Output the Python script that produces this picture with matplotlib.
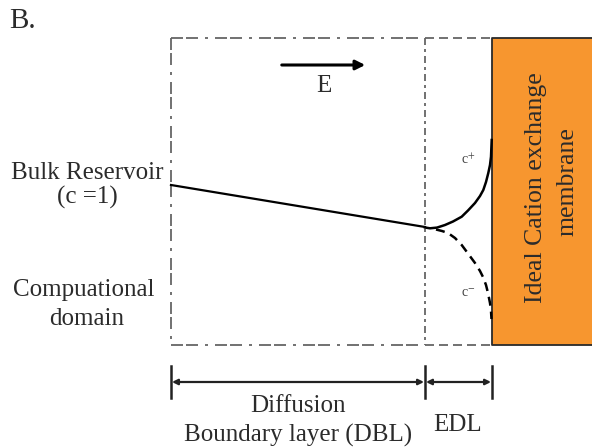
import numpy as np
import matplotlib.pyplot as plt

plt.rcParams['font.family'] = ['Liberation Serif', 'DejaVu Serif']
plt.rcParams['mathtext.fontset'] = 'stix'

# geometry of the sketch, in pixel units of the canvas
W, H = 592, 448
dbl_x = [171, 425]          # diffusion boundary layer
edl_x = [425, 492]          # electric double layer
membrane_x = [492, 592]
box_y = [38, 345]

# concentration profiles
bulk_x = [171, 425]
bulk_c = [185, 227]
cplus_x = [425, 430, 437, 445, 453, 461.7, 468, 475, 480, 483.3, 486, 488.3, 490, 491, 491.7]
cplus_c = [227.5, 228.3, 227.6, 225, 221.5, 216.7, 210.5, 203, 196, 190, 182, 173, 165, 156.7, 140]
cminus_x = [436, 442, 448, 455, 461.7, 468, 475, 480, 483, 486, 488, 490, 491, 491.5]
cminus_c = [229.5, 231, 233, 238, 245, 253.5, 263, 271, 277, 285, 293, 303, 311, 319]

border = '#666666'
ink = '#2b2b2b'
orange = '#f7962f'

fig = plt.figure(figsize=(W / 100, H / 100), dpi=100)
ax = fig.add_axes([0, 0, 1, 1])
ax.set_xlim(0, W)
ax.set_ylim(H, 0)
ax.axis('off')


def px(lw, *lens):
    # dash lengths given in pixels -> units of linewidth
    return tuple(v * 0.72 / lw for v in lens)


lw_b = 1.3
dashdot = (0, px(lw_b, 12, 3, 12, 7, 3, 7))
dashed = (0, px(lw_b, 9, 5))

# DBL box
ax.plot([dbl_x[0], dbl_x[1]], [box_y[0], box_y[0]], color=border, lw=lw_b, ls=dashdot)
ax.plot([dbl_x[0], dbl_x[1]], [box_y[1], box_y[1]], color=border, lw=lw_b, ls=dashdot)
ax.plot([dbl_x[0], dbl_x[0]], box_y, color=border, lw=lw_b, ls=dashdot)
ax.plot([dbl_x[1], dbl_x[1]], box_y, color=border, lw=lw_b, ls=(0, px(lw_b, 7, 4, 3, 4)))
# EDL box
ax.plot(edl_x, [box_y[0], box_y[0]], color=border, lw=lw_b, ls=dashed)
ax.plot(edl_x, [box_y[1], box_y[1]], color=border, lw=lw_b, ls=dashed)

# membrane
ax.fill_between(membrane_x, box_y[0], box_y[1], color=orange, lw=0)
ax.plot([membrane_x[1], membrane_x[0], membrane_x[0], membrane_x[1]],
        [box_y[0], box_y[0], box_y[1], box_y[1]], color='#2a2a2a', lw=1.3)
ax.text(536, 188, 'Ideal Cation exchange', rotation=90, ha='center', va='center',
        fontsize=18.5, color=ink)
ax.text(568, 182, 'membrane', rotation=90, ha='center', va='center', fontsize=18.5, color=ink)

# profiles
ax.plot(bulk_x, bulk_c, color='black', lw=1.6)
ax.plot(cplus_x, cplus_c, color='black', lw=1.8)
ax.plot(cminus_x, cminus_c, color='black', lw=1.8, ls=(0, px(1.8, 9, 6)))
ax.text(468, 160, r'c$^{+}$', ha='center', va='center', fontsize=10, color='#444444')
ax.text(468, 293, r'c$^{-}$', ha='center', va='center', fontsize=10, color='#444444')

# field arrow
ax.annotate('', xy=(368, 65), xytext=(279, 65),
            arrowprops=dict(arrowstyle='-|>', color='black', lw=2.2, mutation_scale=14))
ax.text(324, 86, 'E', ha='center', va='center', fontsize=18, color=ink)

# left labels
ax.text(9, 21, 'B.', ha='left', va='center', fontsize=21, color=ink)
ax.text(87, 173, 'Bulk Reservoir', ha='center', va='center', fontsize=18, color=ink)
ax.text(87, 197, '(c =1)', ha='center', va='center', fontsize=18, color=ink)
ax.text(84, 290, 'Compuational', ha='center', va='center', fontsize=18, color=ink)
ax.text(87, 319, 'domain', ha='center', va='center', fontsize=18, color=ink)

# dimension lines
dim_y = 382
for x in [dbl_x[0], dbl_x[1], edl_x[1]]:
    ax.plot([x, x], [366, 398], color='#222222', lw=1.8)
for a, b in [dbl_x, edl_x]:
    ax.annotate('', xy=(b - 1, dim_y), xytext=(a + 1, dim_y),
                arrowprops=dict(arrowstyle='<|-|>', color='#222222', lw=1.6,
                                mutation_scale=8, shrinkA=0, shrinkB=0))
ax.text(298, 406, 'Diffusion', ha='center', va='center', fontsize=18, color=ink)
ax.text(298, 435, 'Boundary layer (DBL)', ha='center', va='center', fontsize=18, color=ink)
ax.text(458, 425, 'EDL', ha='center', va='center', fontsize=18, color=ink)

fig.savefig('out.png', dpi=100)
